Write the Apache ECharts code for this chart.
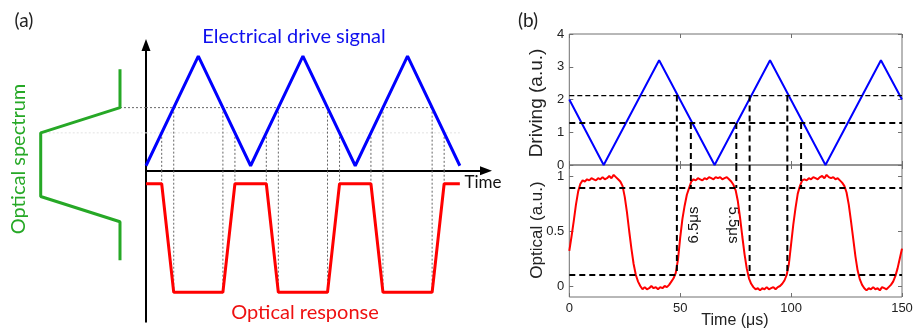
<!DOCTYPE html>
<html>
<head>
<meta charset="utf-8">
<script src="https://cdn.jsdelivr.net/npm/echarts@6.0.0/dist/echarts.min.js"></script>
<style>
  html, body { margin: 0; padding: 0; background: #fff; }
  #chart { width: 914px; height: 329px; }
</style>
</head>
<body>
<div id="chart"></div>
<script>
// (a) schematic, time in half periods of the drive
const aDriveT = [0, 1, 2, 3, 4, 5, 6]
const aDriveLevel = [0, 1, 0, 1, 0, 1, 0]
const aRespT = [0, 0.3, 0.53, 1.47, 1.7, 2.3, 2.53, 3.47, 3.7, 4.3, 4.53, 5.47, 5.7, 6]
const aRespLevel = [1, 1, 0, 0, 1, 1, 0, 0, 1, 1, 0, 0, 1, 1]
// optical spectrum (transmission, drive level)
const aSpecTrans = [0, 0, 1, 1, 0, 0]
const aSpecLevel = [0.88, 0.53, 0.3, -0.28, -0.51, -0.86]
const aHigh = 0.53
const aLow = 0.3
const aCrossT = [0.3, 0.53, 1.47, 1.7, 2.3, 2.53, 3.47, 3.7, 4.3, 4.53, 5.47, 5.7]
const aCrossLevel = [0.3, 0.53, 0.53, 0.3, 0.3, 0.53, 0.53, 0.3, 0.3, 0.53, 0.53, 0.3]
const aCrossResp = [1, 0, 0, 1, 1, 0, 0, 1, 1, 0, 0, 1]

// (b) measured, time in us
const bDriveT = [0, 15.5, 40.5, 65.5, 90.5, 115.5, 140.5, 150]
const bDriveV = [2, 0, 3.2, 0, 3.2, 0, 3.2, 2]
const bDriveThin = 2.12
const bDriveThick = 1.28
const bOptLevels = [0.89, 0.1]
const bMarkT = [48.5, 54.8, 75.3, 81.3, 98.3, 104.5]
const bMarkDrive = [2.12, 1.28, 1.28, 2.12, 2.12, 1.28]
const bMarkOpt = [0.1, 0.89, 0.89, 0.1, 0.1, 0.89]
const optStep = 1 // one sample per us
const optical = [
  0.32, 0.45, 0.59, 0.74, 0.86, 0.93, 0.96, 0.95, 0.97, 0.96,
  0.98, 0.97, 0.96, 0.98, 0.97, 0.99, 0.97, 0.98, 1.0, 0.98,
  1.01, 0.99, 0.97, 0.95, 0.91, 0.81, 0.67, 0.5, 0.34, 0.2,
  0.1, 0.04, 0.0, -0.03, -0.01, -0.03, -0.02, 0.0, -0.02, -0.01,
  -0.03, -0.01, -0.02, 0.0, -0.01, 0.01, 0.04, 0.07, 0.12, 0.24,
  0.44, 0.61, 0.73, 0.83, 0.89, 0.95, 0.97, 0.96, 0.98, 0.97,
  0.96, 0.98, 0.97, 0.99, 0.98, 0.97, 0.99, 0.98, 0.99, 0.97,
  0.98, 0.99, 0.97, 0.95, 0.92, 0.87, 0.77, 0.62, 0.45, 0.29,
  0.16, 0.07, 0.02, -0.01, -0.03, -0.02, -0.04, -0.02, -0.03, -0.01,
  -0.03, -0.02, -0.01, -0.03, -0.01, 0.0, 0.02, 0.05, 0.1, 0.2,
  0.38, 0.56, 0.71, 0.84, 0.91, 0.96, 0.97, 0.96, 0.98, 0.97,
  0.99, 0.98, 0.97, 0.99, 1.0, 0.98, 1.01, 0.99, 0.98, 0.99,
  0.97, 0.98, 0.96, 0.94, 0.91, 0.85, 0.74, 0.59, 0.43, 0.27,
  0.14, 0.06, 0.01, -0.02, -0.04, -0.02, -0.03, -0.01, -0.03, -0.02,
  -0.04, -0.01, -0.02, -0.03, -0.01, 0.01, 0.04, 0.09, 0.16, 0.25,
  0.34
]
const bTimeTicks = [0, 50, 100, 150]
const bOptTicks = [0, 0.5, 1]

const BLUE = '#0000ff'
const RED = '#ff0000'
const GREEN = '#26a826'
const BOX = '#707070'

const chart = echarts.init(document.getElementById('chart'), null, { renderer: 'canvas' })

function pairs(xs, ys) {
  return xs.map((x, i) => [x, ys[i]])
}
// one straight piece on axis pair idx
function seg(idx, x1, y1, x2, y2, lineStyle, z) {
  return {
    type: 'line', xAxisIndex: idx, yAxisIndex: idx, data: [[x1, y1], [x2, y2]],
    symbol: 'none', silent: true, clip: false, lineStyle: lineStyle, z: z || 2
  }
}
function curve(idx, data, lineStyle, z) {
  return {
    type: 'line', xAxisIndex: idx, yAxisIndex: idx, data: data,
    symbol: 'none', silent: true, clip: false, lineStyle: lineStyle, z: z || 3
  }
}

const hidden = { show: false }
const axisBlack = { show: true, lineStyle: { color: '#000', width: 2 } }
const tickIn = { show: true, inside: true, length: 4, lineStyle: { color: BOX, width: 1 } }
const tickLabel = { fontSize: 13, color: '#222', fontFamily: 'Liberation Sans', margin: 5 }

const dotted = { color: '#666', width: 1, type: [2, 2] }
const faint = { color: '#e2e2e2', width: 1, type: [2, 2] }
const dashThin = { color: '#000', width: 1.2, type: [5, 3] }
const dashThick = { color: '#000', width: 2, type: [6, 4] }

const series = []
// --- panel (a)
series.push(curve(0, pairs(aDriveT, aDriveLevel), { color: BLUE, width: 3 }))
series.push(curve(1, pairs(aRespT, aRespLevel), { color: RED, width: 3 }))
series.push(curve(2, pairs(aSpecTrans, aSpecLevel), { color: GREEN, width: 3 }))
series.push(seg(2, 0, aHigh, -0.33, aHigh, dotted))
series.push(seg(0, 0, aHigh, aCrossT[10], aHigh, dotted))
series.push(seg(2, 1, aLow, -0.33, aLow, faint, 1))
series.push(seg(0, 0, aLow, 6, aLow, faint, 1))
aCrossT.forEach((t, i) => {
  series.push(seg(0, t, aCrossLevel[i], t, -0.045, dotted))
  series.push(seg(1, t, 1.12, t, aCrossResp[i], dotted))
})
// --- panel (b)
series.push(curve(3, pairs(bDriveT, bDriveV), { color: BLUE, width: 2 }))
series.push(curve(5, optical.map((v, i) => [i * optStep, v]), { color: RED, width: 2 }))
series.push(seg(3, 0, bDriveThin, 150, bDriveThin, dashThin, 4))
series.push(seg(3, 0, bDriveThick, 150, bDriveThick, dashThick, 4))
bOptLevels.forEach(v => series.push(seg(5, 0, v, 150, v, dashThick, 4)))
bMarkT.forEach((t, i) => {
  series.push(seg(3, t, bMarkDrive[i], t, 0, dashThick, 4))
  series.push(seg(5, t, 1.1, t, bMarkOpt[i], dashThick, 4))
})

function txt(text, x, y, size, color, family, rot) {
  return {
    type: 'text', x: x, y: y, rotation: rot || 0, silent: true,
    style: {
      text: text, fill: color, fontSize: size, fontFamily: family,
      align: 'center', verticalAlign: 'middle', textAlign: 'center', textVerticalAlign: 'middle'
    }
  }
}

const option = {
  animation: false,
  backgroundColor: '#fff',
  grid: [
    { left: 146, top: 45.1, width: 340, height: 125.6, show: false, outerBoundsMode: 'none' },
    { left: 146, top: 170.7, width: 340, height: 151, show: false, outerBoundsMode: 'none' },
    { left: 30, top: 45.1, width: 116, height: 276.9, show: false, outerBoundsMode: 'none' },
    { left: 569.3, top: 34, width: 332.7, height: 131, show: true, borderColor: BOX, borderWidth: 1, outerBoundsMode: 'none' },
    { left: 569.3, top: 165, width: 332.7, height: 132, show: true, borderColor: BOX, borderWidth: 1, outerBoundsMode: 'none' }
  ],
  xAxis: [
    {
      gridIndex: 0, type: 'value', min: 0, max: 6.5,
      axisLine: { show: true, onZero: false, symbol: ['none', 'triangle'], symbolSize: [9, 12], lineStyle: { color: '#000', width: 2 } },
      axisTick: hidden, axisLabel: hidden, splitLine: hidden
    },
    { gridIndex: 1, type: 'value', min: 0, max: 6.5, show: false },
    { gridIndex: 2, type: 'value', min: -0.328, max: 1.135, inverse: true, show: false },
    {
      gridIndex: 3, type: 'value', min: 0, max: 150, interval: 50, position: 'bottom',
      axisLine: { show: false, onZero: false }, axisTick: tickIn, axisLabel: hidden, splitLine: hidden
    },
    {
      gridIndex: 3, type: 'value', min: 0, max: 150, interval: 50, position: 'top',
      axisLine: { show: false, onZero: false }, axisTick: tickIn, axisLabel: hidden, splitLine: hidden
    },
    {
      gridIndex: 4, type: 'value', min: 0, max: 150, interval: 50, position: 'bottom',
      axisLine: { show: false, onZero: false }, axisTick: tickIn,
      axisLabel: Object.assign({ customValues: bTimeTicks }, tickLabel), splitLine: hidden
    },
    {
      gridIndex: 4, type: 'value', min: 0, max: 150, interval: 50, position: 'top',
      axisLine: { show: false, onZero: false }, axisTick: tickIn, axisLabel: hidden, splitLine: hidden
    }
  ],
  yAxis: [
    {
      gridIndex: 0, type: 'value', min: -0.045, max: 1.1,
      axisLine: { show: true, onZero: false, symbol: ['none', 'triangle'], symbolSize: [9, 12], lineStyle: { color: '#000', width: 2 } },
      axisTick: hidden, axisLabel: hidden, splitLine: hidden
    },
    {
      gridIndex: 1, type: 'value', min: -0.27, max: 1.12,
      axisLine: Object.assign({ onZero: false }, axisBlack), axisTick: hidden, axisLabel: hidden, splitLine: hidden
    },
    { gridIndex: 2, type: 'value', min: -1.424, max: 1.1, show: false },
    {
      gridIndex: 3, type: 'value', min: 0, max: 4, interval: 1, position: 'left',
      axisLine: { show: false, onZero: false }, axisTick: tickIn, axisLabel: tickLabel, splitLine: hidden
    },
    {
      gridIndex: 3, type: 'value', min: 0, max: 4, interval: 1, position: 'right',
      axisLine: { show: false, onZero: false }, axisTick: tickIn, axisLabel: hidden, splitLine: hidden
    },
    {
      gridIndex: 4, type: 'value', min: -0.1, max: 1.1, position: 'left',
      axisLine: { show: false, onZero: false },
      axisTick: Object.assign({ customValues: bOptTicks }, tickIn),
      axisLabel: Object.assign({ customValues: bOptTicks }, tickLabel), splitLine: hidden
    },
    {
      gridIndex: 4, type: 'value', min: -0.1, max: 1.1, position: 'right',
      axisLine: { show: false, onZero: false },
      axisTick: Object.assign({ customValues: bOptTicks }, tickIn), axisLabel: hidden, splitLine: hidden
    }
  ],
  graphic: [
    txt('(a)', 24, 21, 19, '#222', 'Lato'),
    txt('Electrical drive signal', 294, 37, 20, '#1010ee', 'Lato'),
    txt('Optical response', 305, 313, 20, '#ee1111', 'Lato'),
    txt('Optical spectrum', 19, 159, 20, GREEN, 'Lato', Math.PI / 2),
    txt('Time', 483, 183, 17, '#111', 'Lato'),
    txt('(b)', 528, 21, 19, '#222', 'Lato'),
    txt('Driving (a.u.)', 537, 103, 19, '#222', 'Liberation Sans', Math.PI / 2),
    txt('Optical (a.u.)', 537, 230, 17, '#222', 'Liberation Sans', Math.PI / 2),
    txt('Time (\u03bcs)', 735, 321, 16, '#222', 'Liberation Sans'),
    txt('6.5\u03bcs', 694, 225, 15, '#111', 'Liberation Sans', Math.PI / 2),
    txt('5.5\u03bcs', 733, 225, 15, '#111', 'Liberation Sans', -Math.PI / 2)
  ],
  series: series
}

chart.setOption(option)
</script>
</body>
</html>
